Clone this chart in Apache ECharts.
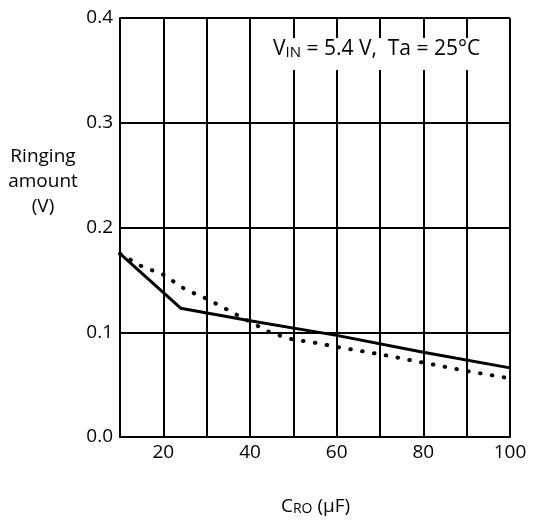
<!DOCTYPE html>
<html>
<head>
<meta charset="utf-8">
<script src="https://cdn.jsdelivr.net/npm/echarts@6/dist/echarts.min.js"></script>
<style>
html,body{margin:0;padding:0;background:#fff;}
#c{width:539px;height:525px;}
</style>
</head>
<body>
<div id="c"></div>
<script>
// Data
const solidX = [10, 24, 40, 60, 80, 100];
const solidY = [0.175, 0.123, 0.111, 0.097, 0.081, 0.066];
const dottedX = [10, 15, 20, 25, 30, 35, 40, 45, 50, 55, 60, 70, 80, 90, 100];
const dottedY = [0.175, 0.163, 0.155, 0.141, 0.132, 0.121, 0.110, 0.099, 0.093, 0.090, 0.086, 0.079, 0.071, 0.063, 0.056];
const xLabels = [20, 40, 60, 80, 100];

const FONT = '"Open Sans", "Noto Sans", sans-serif';
const chart = echarts.init(document.getElementById('c'), null, {renderer: 'canvas'});
const pair = (xs, ys) => xs.map((x, i) => [x, ys[i]]);

chart.setOption({
  animation: false,
  backgroundColor: '#fff',
  grid: {left: 120, right: 29, top: 18, bottom: 88, show: false},
  xAxis: {
    type: 'value', min: 10, max: 100, interval: 10,
    axisLine: {show: true, onZero: false, lineStyle: {color: '#000', width: 2}},
    axisTick: {show: false},
    splitLine: {show: true, lineStyle: {color: '#000', width: 2}},
    axisLabel: {
      color: '#000', fontFamily: FONT, fontSize: 19, margin: 6,
      formatter: v => (xLabels.indexOf(v) >= 0 ? String(v) : '')
    }
  },
  yAxis: {
    type: 'value', min: 0, max: 0.4, interval: 0.1,
    axisLine: {show: true, lineStyle: {color: '#000', width: 2}},
    axisTick: {show: false},
    splitLine: {show: true, lineStyle: {color: '#000', width: 2}},
    axisLabel: {color: '#000', fontFamily: FONT, fontSize: 19, margin: 7, formatter: v => v.toFixed(1)}
  },
  series: [
    {
      type: 'line', data: pair(solidX, solidY), symbol: 'none',
      lineStyle: {color: '#000', width: 3, join: 'round'}
    },
    {
      type: 'line', data: pair(dottedX, dottedY), symbol: 'none',
      lineStyle: {color: '#000', width: 4, type: [0.5, 11.5], cap: 'round'}
    }
  ],
  graphic: [
    {
      type: 'rect', left: 268, top: 38, shape: {width: 230, height: 32},
      style: {fill: '#fff'}, z: 100
    },
    {
      type: 'text', z: 101,
      style: {
        text: '{a|V}{s|IN}{a| = 5.4 V,  Ta = 25°C}', x: 273, y: 37,
        rich: {
          a: {fontSize: 21, fontFamily: FONT, fill: '#000', verticalAlign: 'bottom'},
          s: {fontSize: 15, fontFamily: FONT, fill: '#000', padding: [8, 0, 0, 0], verticalAlign: 'bottom'}
        }
      }
    },
    {
      type: 'text', z: 101,
      style: {
        text: 'Ringing\namount\n(V)', x: 43, y: 144,
        align: 'center', fontSize: 19, lineHeight: 25, fontFamily: FONT, fill: '#000'
      }
    },
    {
      type: 'text', z: 101,
      style: {
        text: '{a|C}{s|RO}{a| (μF)}', x: 281, y: 495,
        rich: {
          a: {fontSize: 19, fontFamily: FONT, fill: '#000', verticalAlign: 'bottom'},
          s: {fontSize: 14, fontFamily: FONT, fill: '#000', padding: [7, 0, 0, 0], verticalAlign: 'bottom'}
        }
      }
    }
  ]
});
</script>
</body>
</html>
